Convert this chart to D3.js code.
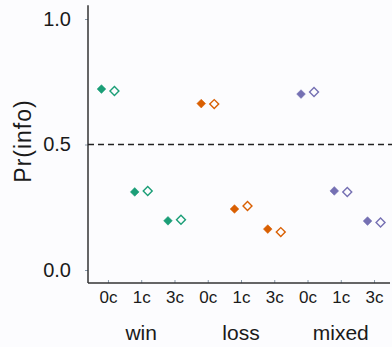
<!DOCTYPE html>
<html>
<head>
<meta charset="utf-8">
<script src="https://cdn.jsdelivr.net/npm/d3@7"></script>
<style>
  body { margin: 0; background: #fcfcfe; }
  text { font-family: "Liberation Sans", Arial, sans-serif; fill: #1a1a1a; }
</style>
</head>
<body>
<svg width="392" height="347"></svg>
<script>
// data
const groups = ['win', 'loss', 'mixed'];
const conds = ['0c', '1c', '3c'];
const colors = ['#1b9e77', '#d95f02', '#7570b3'];
// filled diamonds (left) and open diamonds (right), per group, per condition
const filledVals = [[0.721, 0.311, 0.196], [0.663, 0.243, 0.163], [0.701, 0.315, 0.195]];
const openVals = [[0.713, 0.315, 0.200], [0.661, 0.255, 0.151], [0.709, 0.311, 0.189]];
const yTicks = [0, 0.5, 1];

const svg = d3.select('svg');
const width = +svg.attr('width');

const axisX = 88, axisY = 283;

// one slot per group/condition pair
const keys = [];
groups.forEach(g => conds.forEach(c => keys.push(g + '-' + c)));

const x = d3.scalePoint().domain(keys).range([axisX, 394]).padding(0.6);
const y = d3.scaleLinear().domain([0, 1]).range([270, 19]);

// y axis
const yAxis = svg.append('g')
    .attr('transform', `translate(${axisX},0)`)
    .call(d3.axisLeft(y).tickValues(yTicks).tickFormat(d3.format('.1f')).tickSize(3).tickPadding(14));
yAxis.select('.domain').remove();
yAxis.selectAll('.tick line').attr('stroke', '#8899aa');
yAxis.selectAll('.tick text').style('font-size', '20px').attr('fill', '#1a1a1a');

// x axis
const xAxis = svg.append('g')
    .attr('transform', `translate(0,${axisY})`)
    .call(d3.axisBottom(x).tickSize(-3).tickPadding(8).tickFormat(k => k.split('-')[1]));
xAxis.select('.domain').remove();
xAxis.selectAll('.tick line').attr('stroke', '#8899aa');
xAxis.selectAll('.tick text').style('font-size', '17px').attr('fill', '#1a1a1a');

// axis lines
svg.append('line')
    .attr('x1', axisX).attr('x2', axisX)
    .attr('y1', y(1.055)).attr('y2', axisY)
    .attr('stroke', '#333').attr('stroke-width', 1.5);
svg.append('line')
    .attr('x1', axisX).attr('x2', width - 2)
    .attr('y1', axisY).attr('y2', axisY)
    .attr('stroke', '#333').attr('stroke-width', 1.5);

// chance line
svg.append('line')
    .attr('x1', axisX).attr('x2', width)
    .attr('y1', y(0.5)).attr('y2', y(0.5))
    .attr('stroke', '#222').attr('stroke-width', 1.5)
    .attr('stroke-dasharray', '6,4');

// group labels under the middle condition
svg.selectAll('.grp').data(groups)
    .enter().append('text')
    .attr('class', 'grp')
    .attr('x', g => x(g + '-1c'))
    .attr('y', 340)
    .attr('text-anchor', 'middle')
    .style('font-size', '21px')
    .text(g => g);

// y label
svg.append('text')
    .attr('transform', `translate(31,141)rotate(-90)`)
    .attr('text-anchor', 'middle')
    .style('font-size', '23px')
    .style('letter-spacing', '1px')
    .text('Pr(info)');

const pts = [];
groups.forEach((g, gi) => conds.forEach((c, ci) => {
    pts.push({ key: g + '-' + c, v: filledVals[gi][ci], col: colors[gi], filled: true });
    pts.push({ key: g + '-' + c, v: openVals[gi][ci], col: colors[gi], filled: false });
}));

const filledSym = d3.symbol().type(d3.symbolSquare).size(38);
const openSym = d3.symbol().type(d3.symbolSquare).size(40);

svg.selectAll('.pt').data(pts)
    .enter().append('path')
    .attr('class', 'pt')
    .attr('d', d => d.filled ? filledSym() : openSym())
    .attr('transform', d => `translate(${x(d.key) + (d.filled ? -6.5 : 6.5)},${y(d.v)})rotate(45)`)
    .attr('fill', d => d.filled ? d.col : 'none')
    .attr('stroke', d => d.col)
    .attr('stroke-width', d => d.filled ? 0.5 : 1.4);
</script>
</body>
</html>
